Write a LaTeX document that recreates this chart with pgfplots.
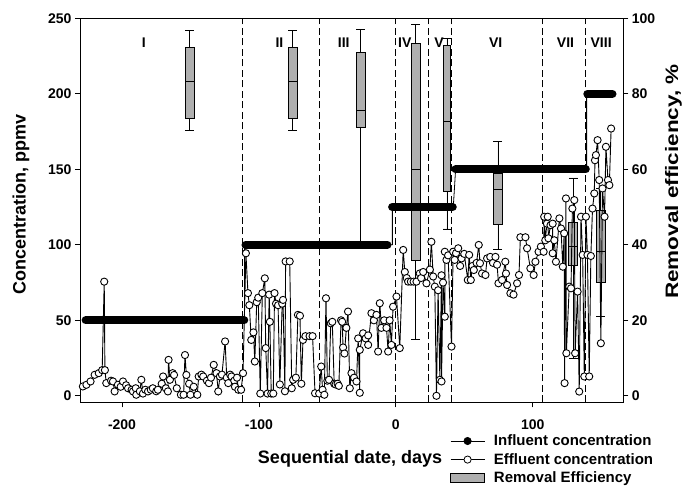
\documentclass[border=0pt]{standalone}
\usepackage{pgfplots}
\pgfplotsset{compat=1.18}
\usepgfplotslibrary{statistics}
\usepackage{fontspec}
\setmainfont{Liberation Sans}
\definecolor{boxgray}{RGB}{175,175,175}
\pgfplotsset{
  lineleg/.style={legend image code/.code={\draw[mark repeat=2,mark phase=2,##1] plot coordinates {(0pt,0pt)(17pt,0pt)(34pt,0pt)};}},
  boxleg/.style={legend image code/.code={\draw[##1] (0pt,-4.5pt) rectangle (34pt,4.5pt);}},
  bx/.style={draw=black, fill=boxgray, line width=0.6pt, solid},
}
\newcommand{\tickfont}{\fontsize{14}{16}\selectfont\bfseries}
\newcommand{\labfont}{\fontsize{18}{21}\selectfont\bfseries}
\begin{document}
\begin{tikzpicture}
\useasboundingbox (-80pt,-84.7pt) rectangle (603pt,402.3pt);
% ---------- right axis: removal efficiency box plots ----------
\begin{axis}[
  scale only axis, width=543.3pt, height=384pt,
  xmin=-230.7, xmax=166.2, ymin=-1.72, ymax=100,
  axis x line=none, axis y line*=right,
  boxplot/draw direction=y,
  ytick={0,20,40,60,80,100}, yticklabels={0,20,40,60,80,100},
  tick align=outside, major tick length=5pt,
  tick style={black, line width=0.8pt},
  axis line style={black, line width=0.8pt},
  yticklabel style={font=\tickfont},
  ylabel={Removal efficiency, \%},
  ylabel style={font=\labfont, at={(axis description cs:1.0924,0.575)}, anchor=center, inner sep=0pt, xscale=1.25},
  clip=false,
]
\addplot[bx, boxplot prepared={draw position=-150.6, lower whisker=70.4, lower quartile=73.5, median=83.3, upper quartile=92.4, upper whisker=96.8, box extend=6.5, whisker extend=6.5}] coordinates {};
\addplot[bx, boxplot prepared={draw position=-75.5, lower whisker=70.4, lower quartile=73.5, median=83.3, upper quartile=92.4, upper whisker=96.8, box extend=6.5, whisker extend=6.5}] coordinates {};
\addplot[bx, boxplot prepared={draw position=-25.6, lower whisker=40, lower quartile=71, median=75.7, upper quartile=90.9, upper whisker=97, box extend=6.5, whisker extend=6.5}] coordinates {};
\addplot[bx, boxplot prepared={draw position=14.6, lower whisker=15, lower quartile=35.8, median=60, upper quartile=93.5, upper whisker=98.4, box extend=6.5, whisker extend=6.5}] coordinates {};
\addplot[bx, boxplot prepared={draw position=37.3, lower whisker=44.2, lower quartile=54.3, median=72.6, upper quartile=92.9, upper whisker=94.7, box extend=5.5, whisker extend=5.5}] coordinates {};
\addplot[bx, boxplot prepared={draw position=74.6, lower whisker=38.7, lower quartile=45.4, median=54.6, upper quartile=58.9, upper whisker=67.3, box extend=6.5, whisker extend=6.5}] coordinates {};
\addplot[bx, boxplot prepared={draw position=129.6, lower whisker=10, lower quartile=34.5, median=39.5, upper quartile=46, upper whisker=57.7, box extend=6.5, whisker extend=6.5}] coordinates {};
\addplot[bx, boxplot prepared={draw position=149.7, lower whisker=21, lower quartile=30, median=38.2, upper quartile=49.2, upper whisker=55, box extend=6.5, whisker extend=6.5}] coordinates {};
\end{axis}
% ---------- left axis: concentrations ----------
\begin{axis}[
  scale only axis, width=543.3pt, height=384pt,
  xmin=-230.7, xmax=166.2, ymin=-4.3, ymax=250,
  xtick={-200,-100,0,100}, xticklabels={-200,-100,0,100},
  ytick={0,50,100,150,200,250}, yticklabels={0,50,100,150,200,250},
  xtick pos=bottom, ytick pos=left,
  tick align=outside, major tick length=5pt,
  tick style={black, line width=0.8pt},
  axis line style={black, line width=0.8pt},
  ticklabel style={font=\tickfont},
  xticklabel style={yshift=-9pt},
  xlabel={Sequential date, days},
  xlabel style={font=\labfont, at={(axis description cs:0.497,-0.146)}, anchor=center},
  ylabel={Concentration, ppmv},
  ylabel style={font=\labfont, at={(axis description cs:-0.1086,0.514)}, anchor=center},
  legend style={at={(axis description cs:0.681,-0.079)}, anchor=north west, draw=none, fill=none,
    font=\fontsize{15}{17}\selectfont\bfseries, row sep=2.2pt, inner sep=0pt,
    cells={anchor=west}, /tikz/every odd column/.append style={column sep=7pt}},
  unbounded coords=jump,
  clip=false,
]
\addlegendimage{lineleg, black, line width=0.8pt, mark=*, mark size=3.6pt, mark options={solid, fill=black}}
\addlegendentry{Influent concentration}
\addlegendimage{lineleg, black, line width=0.8pt, mark=*, mark size=3.6pt, mark options={solid, fill=white}}
\addlegendentry{Effluent concentration}
\addlegendimage{boxleg, draw=black, fill=boxgray, line width=0.6pt}
\addlegendentry{Removal Efficiency}
% period boundaries
\addplot[forget plot, black, line width=0.8pt, dash pattern=on 7pt off 3.5pt] coordinates {(-112,-4.3)(-112,250)};
\addplot[forget plot, black, line width=0.8pt, dash pattern=on 7pt off 3.5pt] coordinates {(-55.5,-4.3)(-55.5,250)};
\addplot[forget plot, black, line width=0.8pt, dash pattern=on 7pt off 3.5pt] coordinates {(-0.5,-4.3)(-0.5,250)};
\addplot[forget plot, black, line width=0.8pt, dash pattern=on 7pt off 3.5pt] coordinates {(24.1,-4.3)(24.1,250)};
\addplot[forget plot, black, line width=0.8pt, dash pattern=on 7pt off 3.5pt] coordinates {(40.9,-4.3)(40.9,250)};
\addplot[forget plot, black, line width=0.8pt, dash pattern=on 7pt off 3.5pt] coordinates {(107.2,-4.3)(107.2,250)};
\addplot[forget plot, black, line width=0.8pt, dash pattern=on 7pt off 3.5pt] coordinates {(138.8,-4.3)(138.8,250)};
% influent concentration
\addplot[forget plot, black, line width=0.8pt] coordinates {(-226.5,50)(-110.5,50)(-110.5,100)(-2.5,100)(-2.5,125)(42,125)(43.7,150)(139.4,150)(139.4,200)(158.2,200)};
\addplot[forget plot, black, line width=8.3pt, line cap=round] coordinates {(-226.5,50)(-110.8,50)(nan,nan)(-109.7,100)(-6.2,100)(nan,nan)(-2.6,125)(41.5,125)(nan,nan)(43.7,150)(138.7,150)(nan,nan)(140,200)(158.2,200)};
% effluent concentration
\addplot[forget plot, black, line width=0.9pt, mark=*, mark size=3.6pt, mark options={solid, fill=white, line width=0.9pt}] coordinates {
(-228.6,6.2)(-226,7.3)(-223,9.5)(-220,13.9)(-217,15)(-214.5,17)(-213,75.6)(-212.5,17)(-211.5,8.4)(-208,10)(-206.6,9.5)(-205.4,2.9)(-203,7.3)(-201,6)(-199.3,9.5)(-197,7)(-195.6,5)(-193,4)(-192,2.9)(-190,5)(-189.6,0.7)(-187,3)(-185.9,10.6)(-184.7,1.5)(-183,4)(-181,2.9)(-179,4)(-177.5,5)(-175,3)(-173.8,4)(-171,8)(-170,12.8)(-168,5)(-166.5,2.9)(-166,23.8)(-165,10.6)(-163,15)(-162,13.8)(-160,5)(-157,0.7)(-155,0.7)(-154,27)(-153,13.8)(-151,8)(-150,0.7)(-147.6,6)(-145,0.7)(-144,12.8)(-142,14)(-140.7,12.8)(-138,10)(-136.5,8.4)(-135,12)(-133,20.5)(-131,15)(-129.7,2.9)(-128.5,12.8)(-127,14)(-124.7,36)(-123.5,12)(-122.4,8.4)(-121,14)(-120,12.8)(-118,10)(-117.5,6)(-116,12)(-115,4)(-113,4)(-111.6,15)
(-109.5,94.4)(-108,68)(-107,60)(-105.6,37)(-104,42)(-103,22.7)(-101.6,62)(-100.5,65)(-99,1.5)(-97.5,68)(-95.7,77.8)(-95,31.6)(-93.7,1.5)(-92.5,67)(-92,49)(-91,1.5)(-89.5,1.5)(-88.6,68)(-87.5,61)(-86,60)(-84.7,7.5)(-83,61)(-82.4,63.5)(-81,3)(-80.5,89)(-77.5,89)(-76,5)(-75,10.6)(-73,12)(-71.5,53.6)(-70,53)(-69,8)(-67.8,37)(-66,39.5)(-63,39.5)(-60.8,39.5)(-59,1.7)(-56,1.5)
(-54.5,19.4)(-53.5,4)(-52.2,0.7)(-51,64.6)(-50,10)(-48.8,10.6)(-47.5,48)(-46.4,49)(-45,8)(-44,7.5)(-42.5,8)(-41.6,6.6)(-40,50)(-39.2,49)(-38.5,32)(-37.5,28)(-36.1,45)(-34.9,55.8)(-33.6,5)(-32.4,15)(-30.5,12)(-28.7,9.5)(-27.5,38)(-26.3,2)(-26.3,30.4)(-23.9,41.4)(-22,38)(-20.2,40)(-20.2,33.7)(-17.8,54.7)(-16,50)(-14.1,53.6)(-12.9,29.3)(-11.7,61.3)(-10.5,45)(-8.5,50)(-6.8,45)(-5.6,29.3)(-4.5,50)(-3.2,33.7)(-2,59)(0.5,65.7)(2.9,31.6)
(5.4,96.6)(6.6,82)(8,78)(9,75.6)(11,75.6)(13,75.6)(15.1,75.6)(17.5,81)(18.5,78)(20,82)(22.4,74.5)(24.9,83.6)
(26,102)(27.3,79)(28.5,72.3)(29.7,0)(30.9,69.9)(32.2,10.6)(33.4,79.8)(33.4,9.5)(34.5,75)(35.8,52.4)(35.8,95.4)(37,90)(38.2,93)(40.7,32.6)(41.9,95.4)(43,90)(44,94.5)
(45.6,97.7)(47,86)(48,91)(50,94)(52.6,76.7)(53.6,93.3)(54.8,76.7)(56,86)(57,83.3)(59,88)(60.6,99.9)(61.5,87.8)(63,81)(65.5,80)(66.7,91)(69,92)(71,88)(72.8,92)(74,86.8)(75,74.5)(77.6,76.7)(80,88.8)(80.5,81)(81.3,73.4)(83.7,67.9)(86,67)(88.6,74.5)(90,80)(91,105)(94.7,105)(95.9,97.7)(98.3,84.4)(100.7,80)(102,88.8)(104.3,95.4)(106,98.8)
(108,95.4)(108.4,118.6)(109.2,103)(110.4,114)(111,118.6)(111.5,104.3)(113,113)(114.6,114)(114.6,94.4)(115.8,103)(117,88.8)(119.5,117.5)(120.7,110.8)(122,85.5)(123,107.6)(123.3,8.4)(124.3,130.7)(124.6,28.2)(126.7,72.3)(128,71.2)(129,124)(130.4,129.6)(131,28.2)(132.8,69)(134,2.8)(135.3,118.6)(136.5,93.3)(137.7,12.8)(138.9,118.6)
(140,93.3)(141.3,12.8)(142.5,92.6)(143.7,124)(145,134)(145.5,156)(146.2,159.4)(147.4,169.3)(148.6,142.9)(149.8,34.8)(151,137.3)(152.5,118.6)(153.5,164.9)(155,142.9)(156,139.5)(157.3,177)
};
% period labels
\node[font=\tickfont] at (axis cs:-184,234) {I};
\node[font=\tickfont] at (axis cs:-85,234) {II};
\node[font=\tickfont] at (axis cs:-38,234) {III};
\node[font=\tickfont] at (axis cs:6.6,234) {IV};
\node[font=\tickfont] at (axis cs:31.5,234) {V};
\node[font=\tickfont] at (axis cs:73,234) {VI};
\node[font=\tickfont] at (axis cs:124,234) {VII};
\node[font=\tickfont] at (axis cs:150,234) {VIII};
\end{axis}
\end{tikzpicture}
\end{document}
